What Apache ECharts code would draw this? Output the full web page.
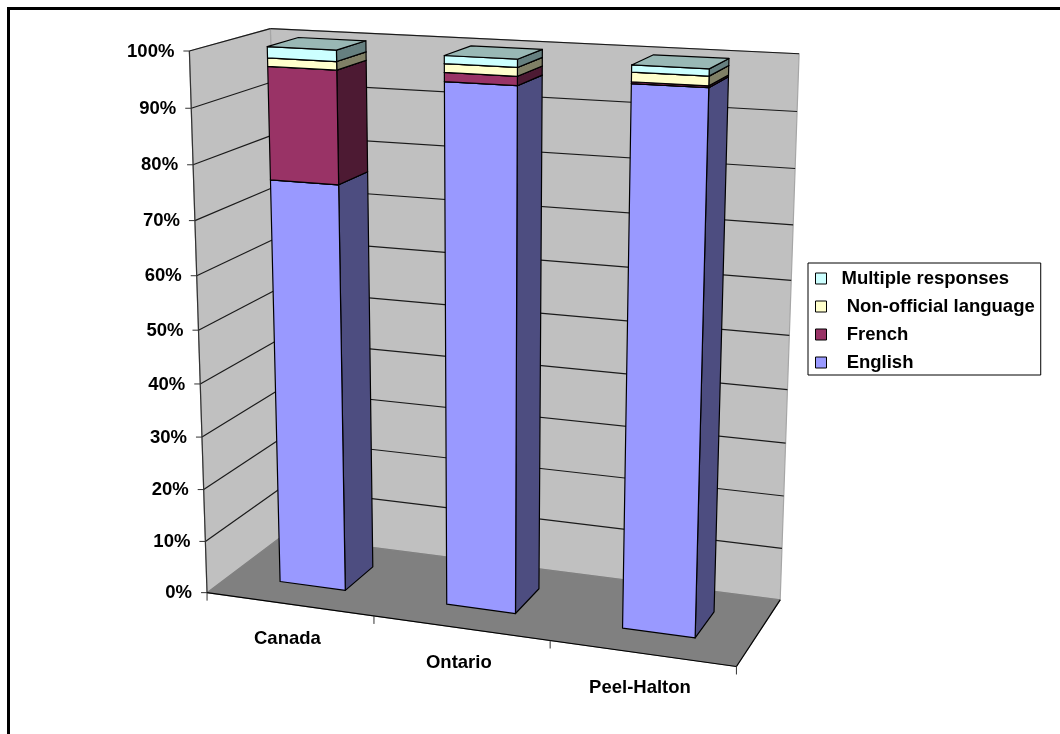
<!DOCTYPE html>
<html><head><meta charset="utf-8">
<style>html,body{margin:0;padding:0;background:#fff}#c{width:1060px;height:734px}</style>
<script src="https://cdn.jsdelivr.net/npm/echarts@6/dist/echarts.min.js"></script>
</head><body><div id="c"></div>
<script>
// ---- data ----
const categories = ['Canada', 'Ontario', 'Peel-Halton'];
const english = [76.2, 95.5, 96.9];
const french = [20.3, 1.6, 0.3];
const nonOfficial = [1.5, 1.5, 1.6];
const multiple = [2, 1.4, 1.2];
const valueTicks = [0, 10, 20, 30, 40, 50, 60, 70, 80, 90, 100];
const tickLabels = ['0%', '10%', '20%', '30%', '40%', '50%', '60%', '70%', '80%', '90%', '100%'];
const seriesNames = ['English', 'French', 'Non-official language', 'Multiple responses'];
const seriesColors = ['#9999FF', '#993366', '#FFFFCC', '#CCFFFF'];
const sideColors = ['#4D4D80', '#4D1A33', '#808066', '#668080'];
const topColors = ['#7373BF', '#73264D', '#BFBF99', '#99B8B5'];

// ---- 3D view: projective camera fitted to the box corners seen in the picture ----
const view = [
  [0,0,0,207,593],[1,0,0,736,667],[0,0,1,283,536],[1,0,1,780,599.5],
  [0,1,0,190,51],[0,1,1,270,28],[1,1,1,799,54],
  [0,.5,0,198.5,330],[1,.5,1,790,335],[0,.9,0,191.5,108],[0,.1,0,205,541],[0,.9,1,271,83]
];
function fitCamera(pts){
  const n=11, A=Array.from({length:n},()=>new Array(n+1).fill(0));
  const add=(r,b)=>{for(let i=0;i<n;i++){for(let j=0;j<n;j++)A[i][j]+=r[i]*r[j];A[i][n]+=r[i]*b;}};
  pts.forEach(([u,v,w,X,Y])=>{
    add([1,u,v,w,0,0,0,0,-X*u,-X*v,-X*w],X);
    add([0,0,0,0,1,u,v,w,-Y*u,-Y*v,-Y*w],Y);
  });
  for(let i=0;i<n;i++){
    let p=i;for(let k=i+1;k<n;k++)if(Math.abs(A[k][i])>Math.abs(A[p][i]))p=k;
    [A[i],A[p]]=[A[p],A[i]];
    for(let k=0;k<n;k++){if(k===i)continue;const f=A[k][i]/A[i][i];for(let j=i;j<=n;j++)A[k][j]-=f*A[i][j];}
  }
  return A.map((r,i)=>r[n]/r[i]);
}
const cam = fitCamera(view);
function P(u,v,w){
  const d=1+cam[8]*u+cam[9]*v+cam[10]*w;
  return [(cam[0]+cam[1]*u+cam[2]*v+cam[3]*w)/d,(cam[4]+cam[5]*u+cam[6]*v+cam[7]*w)/d];
}
const BAR_LEFT=0.0645, BAR_RIGHT=0.068, BAR_W0=0.30, BAR_W1=0.70;
const FONT='"Liberation Sans", Arial, sans-serif';
const FS=18.5;
function poly(pts,fill,stroke,z){return {type:'polygon',z2:z||0,shape:{points:pts},style:{fill:fill,stroke:stroke||'#000',lineWidth:1.2,lineJoin:'round'},silent:true};}
function line(a,b,stroke,w){return {type:'line',shape:{x1:a[0],y1:a[1],x2:b[0],y2:b[1]},style:{stroke:stroke,lineWidth:w||1,fill:null},silent:true};}
function norm(params,api,cat,val){
  const c=api.coord([cat,val]),s=params.coordSys;
  return [(c[0]-s.x)/s.width,(s.y+s.height-c[1])/s.height];
}

// ---- frame + box ----
function renderBox(params,api){
  const ch=[];
  const vOf=t=>norm(params,api,0,t)[1];
  const bandW=1/categories.length;
  const wallEdge='#A6A6A6';
  ch.push(poly([P(0,0,1),P(1,0,1),P(1,1,1),P(0,1,1)],'#C0C0C0',wallEdge));
  ch.push(poly([P(0,0,0),P(0,0,1),P(0,1,1),P(0,1,0)],'#C0C0C0',wallEdge));
  ch.push(poly([P(0,0,0),P(1,0,0),P(1,0,1),P(0,0,1)],'#808080','#808080'));
  valueTicks.forEach((t,i)=>{
    const v=vOf(t), a=P(0,v,0), b=P(0,v,1), c=P(1,v,1);
    if(i>0){ch.push(line(a,b,'#1a1a1a',1.2));ch.push(line(b,c,'#1a1a1a',1.2));}
    ch.push(line([a[0]-6,a[1]],a,'#333'));
    ch.push({type:'text',silent:true,style:{text:tickLabels[i],x:a[0]-15,y:a[1]+0.5,align:'right',verticalAlign:'middle',font:'bold '+FS+'px '+FONT,fill:'#000'}});
  });
  ch.push(line(P(0,0,0),P(0,1,0),'#333',1.2));
  ch.push(line(P(0,0,0),P(1,0,0),'#000',1.2));
  ch.push(line(P(1,0,0),P(1,0,1),'#000',1.2));
  for(let i=0;i<=categories.length;i++){
    const a=P(i*bandW,0,0);
    ch.push(line(a,[a[0],a[1]+8],'#333'));
  }
  const fr=[[8.5,734],[8.5,8.5],[1060,8.5]];
  ch.push({type:'polyline',silent:true,shape:{points:fr},style:{stroke:'#000',lineWidth:3,fill:null}});
  return {type:'group',children:ch};
}
function renderCatLabel(params,api){
  const i=api.value(0), u=norm(params,api,i,0)[0], a=P(u,0,0);
  return {type:'text',silent:true,style:{text:categories[i],x:a[0]-2,y:a[1]+35,align:'center',verticalAlign:'middle',font:'bold '+FS+'px '+FONT,fill:'#000'}};
}
function barRenderer(s){
  return function(params,api){
    const i=api.value(0), b=norm(params,api,i,api.value(1)), t=norm(params,api,i,api.value(2));
    const u0=b[0]-BAR_LEFT,u1=b[0]+BAR_RIGHT,v0=b[1],v1=t[1];
    return {type:'group',children:[
      poly([P(u1,v0,BAR_W0),P(u1,v0,BAR_W1),P(u1,v1,BAR_W1),P(u1,v1,BAR_W0)],sideColors[s]),
      poly([P(u0,v0,BAR_W0),P(u1,v0,BAR_W0),P(u1,v1,BAR_W0),P(u0,v1,BAR_W0)],seriesColors[s]),
      poly([P(u0,v1,BAR_W0),P(u1,v1,BAR_W0),P(u1,v1,BAR_W1),P(u0,v1,BAR_W1)],topColors[s])
    ]};
  };
}
const stacks=[english,french,nonOfficial,multiple];
const running=categories.map(()=>0);
const barSeries=stacks.map((vals,s)=>{
  const data=vals.map((v,i)=>{const r=[i,running[i],running[i]+v];running[i]+=v;return r;});
  return {type:'custom',name:seriesNames[s],renderItem:barRenderer(s),data:data,encode:{x:0,y:[1,2]},
    itemStyle:{color:seriesColors[s]},z:5,animation:false,silent:true};
});
const chart=echarts.init(document.getElementById('c'),null,{renderer:'canvas'});
chart.setOption({
  animation:false,backgroundColor:'#fff',
  grid:{left:100,top:100,width:600,height:500},
  xAxis:{type:'category',data:categories,show:false},
  yAxis:{type:'value',min:0,max:100,interval:10,show:false},
  legend:{
    orient:'vertical',left:808,top:263,selectedMode:false,
    data:['Multiple responses','Non-official language','French','English'],
    icon:'rect',itemWidth:11,itemHeight:11,itemGap:9,
    padding:[6,6,3,7],backgroundColor:'#fff',borderColor:'#000',borderWidth:1,
    itemStyle:{borderColor:'#000',borderWidth:1},
    formatter:n=>n==='Multiple responses'?n:' '+n,
    textStyle:{fontFamily:FONT,fontSize:FS,fontWeight:'bold',color:'#000',padding:[0,0,0,10]}
  },
  series:[
    {type:'custom',name:'box',renderItem:renderBox,data:[[0]],z:1,silent:true,tooltip:{show:false}},
    {type:'custom',name:'cats',renderItem:renderCatLabel,data:categories.map((c,i)=>[i]),z:2,silent:true}
  ].concat(barSeries)
});
</script></body></html>
